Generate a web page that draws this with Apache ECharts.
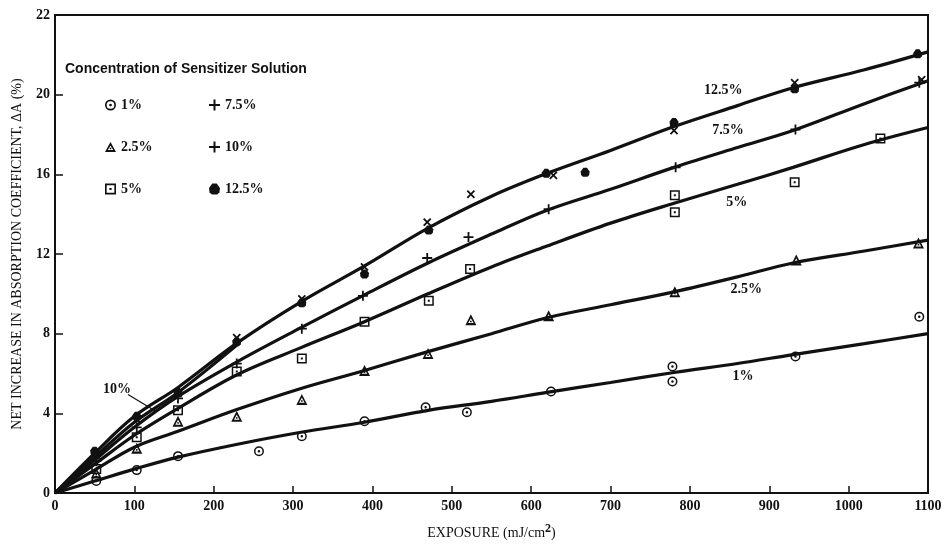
<!DOCTYPE html>
<html>
<head>
<meta charset="utf-8">
<script src="https://cdn.jsdelivr.net/npm/echarts@6/dist/echarts.min.js"></script>
<style>
  html, body { margin: 0; padding: 0; background: #fff; }
  #chart { width: 948px; height: 550px; }
</style>
</head>
<body>
<div id="chart"></div>
<script>
// Measured points, [exposure mJ/cm2, net increase ΔA %]
const pts1 = [[52,0.6],[103,1.15],[155,1.85],[257,2.1],[311,2.85],[390,3.6],[467,4.3],[519,4.05],[625,5.1],[778,6.35],[778,5.6],[933,6.85],[1089,8.85]];
const pts25 = [[52,1.0],[103,2.25],[155,3.6],[229,3.85],[311,4.7],[390,6.15],[470,7.0],[524,8.7],[622,8.9],[781,10.1],[934,11.7],[1088,12.55]];
const pts5 = [[52,1.2],[103,2.8],[155,4.15],[229,6.1],[311,6.75],[390,8.6],[471,9.65],[523,11.25],[781,14.95],[781,14.1],[932,15.6],[1040,17.8]];
const pts75 = [[52,1.6],[103,3.3],[155,4.75],[229,6.5],[311,8.25],[388,9.9],[469,11.8],[521,12.85],[622,14.25],[782,16.35],[933,18.25],[1089,20.6]];
const pts10 = [[52,1.9],[103,3.7],[155,5.0],[229,7.8],[311,9.75],[390,11.35],[469,13.6],[524,15.0],[628,15.95],[780,18.2],[932,20.6],[1092,20.75]];
const pts125 = [[50,2.1],[103,3.85],[155,5.05],[229,7.6],[311,9.55],[390,11.0],[471,13.2],[619,16.05],[668,16.1],[780,18.6],[932,20.3],[1087,22.05]];

// Fitted curves sampled at common exposures
const fitX = [0, 50, 100, 155, 230, 310, 390, 470, 550, 620, 700, 780, 860, 930, 1020, 1100];
const fit1 = [0, 0.6, 1.2, 1.8, 2.45, 3.05, 3.55, 4.15, 4.6, 5.05, 5.55, 6.05, 6.5, 6.95, 7.5, 8.0];
const fit25 = [0, 1.15, 2.3, 3.1, 4.2, 5.25, 6.15, 7.1, 8.0, 8.8, 9.45, 10.1, 10.85, 11.55, 12.15, 12.7];
const fit5 = [0, 1.45, 2.9, 4.25, 5.95, 7.3, 8.6, 10.0, 11.35, 12.4, 13.55, 14.55, 15.5, 16.35, 17.5, 18.35];
const fit75 = [0, 1.65, 3.3, 4.85, 6.6, 8.3, 9.95, 11.55, 13.0, 14.2, 15.25, 16.35, 17.35, 18.2, 19.55, 20.7];
const fit125 = [0, 2.0, 3.85, 5.3, 7.55, 9.6, 11.4, 13.3, 14.9, 16.05, 17.2, 18.4, 19.45, 20.35, 21.25, 22.15];
const fit10X = [0, 50, 100, 155, 230];
const fit10 = [0, 1.8, 3.55, 5.05, 7.45];

// Curve captions
const curveLabels = [[842,20.2,'12.5%'],[848,18.2,'7.5%'],[859,14.6,'5%'],[871,10.2,'2.5%'],[867,5.85,'1%']];
const label10 = [78, 5.2, '10%'];
const leader10 = [[92,4.95],[127,4.1]];

const xTicks = { min: 0, max: 1100, interval: 100 };
const yTicks = { min: 0, max: 24, interval: 4 };

const serif = '"Liberation Serif", "DejaVu Serif", serif';
const ink = '#111';

const sym = {
  circleDot: 'path://M0,-10 A10,10 0 1 1 0,10 A10,10 0 1 1 0,-10 Z M0,-7 A7,7 0 1 0 0,7 A7,7 0 1 0 0,-7 Z M0,-2.5 A2.5,2.5 0 1 1 0,2.5 A2.5,2.5 0 1 1 0,-2.5 Z',
  triDot: 'path://M0,-10 L10,8 L-10,8 Z M0,-3.5 L-5,4.5 L5,4.5 Z M-1.5,0.5 L1.5,0.5 L1.5,3 L-1.5,3 Z',
  squareDot: 'path://M-10,-10 L10,-10 L10,10 L-10,10 Z M-7,-7 L-7,7 L7,7 L7,-7 Z M-2,-2 L2,-2 L2,2 L-2,2 Z',
  plus: 'path://M-1.8,-10 L1.8,-10 L1.8,-1.8 L10,-1.8 L10,1.8 L1.8,1.8 L1.8,10 L-1.8,10 L-1.8,1.8 L-10,1.8 L-10,-1.8 L-1.8,-1.8 Z',
  blob: 'path://M-4,-10 L4,-10 L7,-6 L10,-2 L9,6 L5,10 L-5,10 L-9,6 L-10,-2 L-7,-6 Z'
};

function zip(xs, ys) { return xs.map((x, i) => [x, ys[i]]); }

function curve(name, xs, ys) {
  return {
    name: name, type: 'line', data: zip(xs, ys), smooth: 0.35,
    symbol: 'none', silent: true, z: 2,
    lineStyle: { color: ink, width: 3.2 }
  };
}

function points(name, data, symbol, size, rotate) {
  return {
    name: name, type: 'scatter', data: data, symbol: symbol,
    symbolSize: size, symbolRotate: rotate || 0, z: 3,
    itemStyle: { color: ink, opacity: 1 }
  };
}

const legendText = { fontFamily: serif, fontWeight: 'bold', fontSize: 14, color: ink };
const axisNum = { fontFamily: serif, fontWeight: 'bold', fontSize: 14, color: ink };

const option = {
  animation: false,
  backgroundColor: '#fff',
  grid: { left: 55, right: 20, top: 15, bottom: 57, show: true, borderColor: ink, borderWidth: 2, backgroundColor: 'transparent' },
  graphic: [{
    type: 'text', left: 65, top: 62,
    style: { text: 'Concentration of Sensitizer Solution', fontFamily: '"Liberation Sans", Arial, sans-serif', fontWeight: 'bold', fontSize: 14, fill: ink }
  }],
  legend: [
    { data: ['1%', '2.5%', '5%'], orient: 'vertical', left: 100, top: 93, itemGap: 28, itemWidth: 11, itemHeight: 11, textStyle: legendText },
    { data: ['7.5%', '10%', '12.5%'], orient: 'vertical', left: 204, top: 93, itemGap: 28, itemWidth: 11, itemHeight: 11, textStyle: legendText }
  ],
  xAxis: {
    type: 'value', min: xTicks.min, max: xTicks.max, interval: xTicks.interval,
    name: '{t|EXPOSURE (mJ/cm}{s|2}{t|)}', nameLocation: 'middle', nameGap: 30,
    nameTextStyle: { rich: {
      t: { fontFamily: serif, fontSize: 14, color: ink },
      s: { fontFamily: serif, fontSize: 12, fontWeight: 'bold', color: ink, verticalAlign: 'bottom', padding: [0, 0, 8, 0] }
    } },
    axisLine: { lineStyle: { color: ink, width: 2 } },
    axisTick: { inside: true, length: 7, lineStyle: { color: ink, width: 1.5 } },
    axisLabel: Object.assign({ margin: 6, formatter: v => String(v) }, axisNum),
    splitLine: { show: false }
  },
  yAxis: {
    type: 'value', min: yTicks.min, max: yTicks.max, interval: yTicks.interval,
    name: 'NET INCREASE IN ABSORPTION COEFFICIENT, ΔA (%)', nameLocation: 'middle', nameGap: 31, nameRotate: 90,
    nameTextStyle: { fontFamily: serif, fontSize: 14, color: ink },
    axisLine: { lineStyle: { color: ink, width: 2 } },
    axisTick: { inside: true, length: 8, lineStyle: { color: ink, width: 1.5 } },
    axisLabel: Object.assign({ margin: 5, formatter: v => (v === yTicks.max ? '22' : String(v)) }, axisNum),
    splitLine: { show: false }
  },
  series: [
    curve('c1', fitX, fit1),
    curve('c25', fitX, fit25),
    curve('c5', fitX, fit5),
    curve('c75', fitX, fit75),
    curve('c125', fitX, fit125),
    curve('c10', fit10X, fit10),
    points('1%', pts1, sym.circleDot, 10),
    points('2.5%', pts25, sym.triDot, 11),
    points('5%', pts5, sym.squareDot, 10),
    points('7.5%', pts75, sym.plus, 10),
    points('10%', pts10, sym.plus, 10, 45),
    points('12.5%', pts125, sym.blob, 9),
    {
      name: 'captions', type: 'scatter', symbolSize: 0, silent: true, z: 4,
      itemStyle: { color: ink, opacity: 1 },
      data: curveLabels.concat([label10]).map(d => ({ value: [d[0], d[1]], name: d[2] })),
      label: { show: true, position: [0, 0], align: 'center', verticalAlign: 'middle', formatter: p => p.name,
        fontFamily: serif, fontWeight: 'bold', fontSize: 14, color: ink, textBorderWidth: 0 }
    },
    {
      name: 'leader', type: 'line', data: leader10, symbol: 'none', silent: true, z: 4,
      lineStyle: { color: ink, width: 1.2 }
    }
  ]
};

const chart = echarts.init(document.getElementById('chart'), null, { renderer: 'canvas' });
chart.setOption(option);
</script>
</body>
</html>
